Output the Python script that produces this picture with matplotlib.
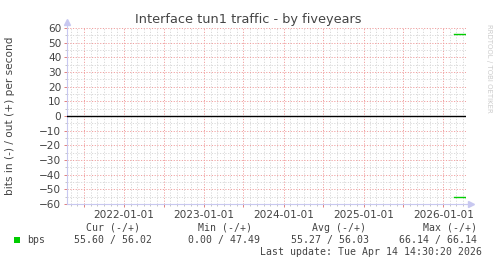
import matplotlib
matplotlib.use("Agg")
import matplotlib.pyplot as plt
import matplotlib.dates as mdates
import numpy as np
import pandas as pd

# ---- data ----
dates = ["2026-02-20", "2026-03-01", "2026-03-10", "2026-03-20", "2026-04-01", "2026-04-10", "2026-04-14"]
out_bps = [56.0, 56.0, 56.0, 56.0, 56.0, 56.0, 56.02]
in_bps = [55.2, 55.2, 55.3, 55.2, 55.3, 55.3, 55.6]
x_start, x_end = "2021-04-14 14:30", "2026-04-14 14:30"
y_ticks = list(range(-60, 61, 10))
title = "Interface tun1 traffic - by fiveyears"
ylabel = "bits in (-) / out (+) per second"
legend_name = "bps"
stat_headers = ["Cur (-/+)", "Min (-/+)", "Avg (-/+)", "Max (-/+)"]
stat_values = ["55.60 / 56.02", "0.00 / 47.49", "55.27 / 56.03", "66.14 / 66.14"]
last_update = "Last update: Tue Apr 14 14:30:20 2026"
watermark = "RRDTOOL / TOBI OETIKER"

W, H = 497, 264
fig = plt.figure(figsize=(W / 100, H / 100), dpi=100)
fig.patch.set_facecolor("white")

L, R, T, B = 67, 466, 28, 204
ax = fig.add_axes([L / W, 1 - B / H, (R - L) / W, (B - T) / H])
ax.set_facecolor("white")

d = pd.to_datetime(dates)
ax.set_xlim(pd.Timestamp(x_start), pd.Timestamp(x_end))
ax.set_ylim(-60, 60)

# grid
ax.xaxis.set_major_locator(mdates.MonthLocator(bymonth=[1, 7]))
ax.xaxis.set_minor_locator(mdates.MonthLocator())
ax.xaxis.set_major_formatter(plt.FuncFormatter(
    lambda v, p: mdates.num2date(v).strftime("%Y-%m-%d") if mdates.num2date(v).month == 1 else ""))
ax.set_yticks(y_ticks)
ax.set_yticks(list(range(-55, 60, 10)), minor=True)

dash = (0, (1.2, 1.6))
ax.grid(True, which="minor", color="#d8d8d8", linestyle=dash, linewidth=0.7)
ax.grid(True, which="major", color="#f0a0a0", linestyle=dash, linewidth=0.7)
ax.set_axisbelow(True)

for s in ["top", "right"]:
    ax.spines[s].set_visible(False)
for s in ["left", "bottom"]:
    ax.spines[s].set_color("#c8c8f0")
    ax.spines[s].set_linewidth(0.8)
ax.spines["left"].set_bounds(-60, 60)

ax.tick_params(axis="both", which="major", length=2, width=0.7, color="#e08080",
               labelsize=7.6, labelcolor="#444444", pad=2)
ax.tick_params(axis="both", which="minor", length=1.5, width=0.6, color="#bbbbbb")

# arrows
ax.plot([0, 0], [1, 1.035], transform=ax.transAxes, color="#c8c8f0", lw=0.8, clip_on=False)
ax.plot([0], [1.035], marker="^", markersize=4.5, color="#c8c8f0", transform=ax.transAxes, clip_on=False)
ax.plot([1, 1.012], [0, 0], transform=ax.transAxes, color="#c8c8f0", lw=0.8, clip_on=False)
ax.plot([1.012], [0], marker=">", markersize=4.5, color="#c8c8f0", transform=ax.transAxes, clip_on=False)

# zero rule
ax.axhline(0, color="black", linewidth=1.0, zorder=3)

# data lines
green = "#00cc00"
ax.plot(d, out_bps, color=green, linewidth=1.0, zorder=4, drawstyle="steps-post")
ax.plot(d, [-v for v in in_bps], color=green, linewidth=1.0, zorder=4, drawstyle="steps-post")

# texts
fig.text(248 / W, 1 - 20 / H, title, ha="center", va="center", fontsize=9.3, color="#444444",
         family="DejaVu Sans")
fig.text(10 / W, 1 - 116 / H, ylabel, ha="center", va="center", rotation=90, fontsize=7.6,
         color="#444444", family="DejaVu Sans")
fig.text(489 / W, 1 - 68 / H, watermark, ha="center", va="center", rotation=270, fontsize=5,
         color="#cccccc", family="DejaVu Sans")

mono = "DejaVu Sans Mono"
fs = 7.1
centers = [113, 225, 339, 450]
for cx, h in zip(centers, stat_headers):
    fig.text(cx / W, 1 - 228 / H, h, ha="center", va="center", fontsize=fs, color="#444444", family=mono)
val_right = [152, 260, 369, 477]
for rx, v in zip(val_right, stat_values):
    fig.text(rx / W, 1 - 240 / H, v, ha="right", va="center", fontsize=fs, color="#444444", family=mono)
fig.text(27 / W, 1 - 240 / H, legend_name, ha="left", va="center", fontsize=fs, color="#444444", family=mono)
fig.patches.append(plt.Rectangle((14 / W, 1 - 243 / H), 6 / W, 6 / H, transform=fig.transFigure,
                                 facecolor=green, edgecolor="none"))
fig.text(482 / W, 1 - 252 / H, last_update, ha="right", va="center", fontsize=fs, color="#444444", family=mono)

fig.savefig("out.png", dpi=100, facecolor="white")
